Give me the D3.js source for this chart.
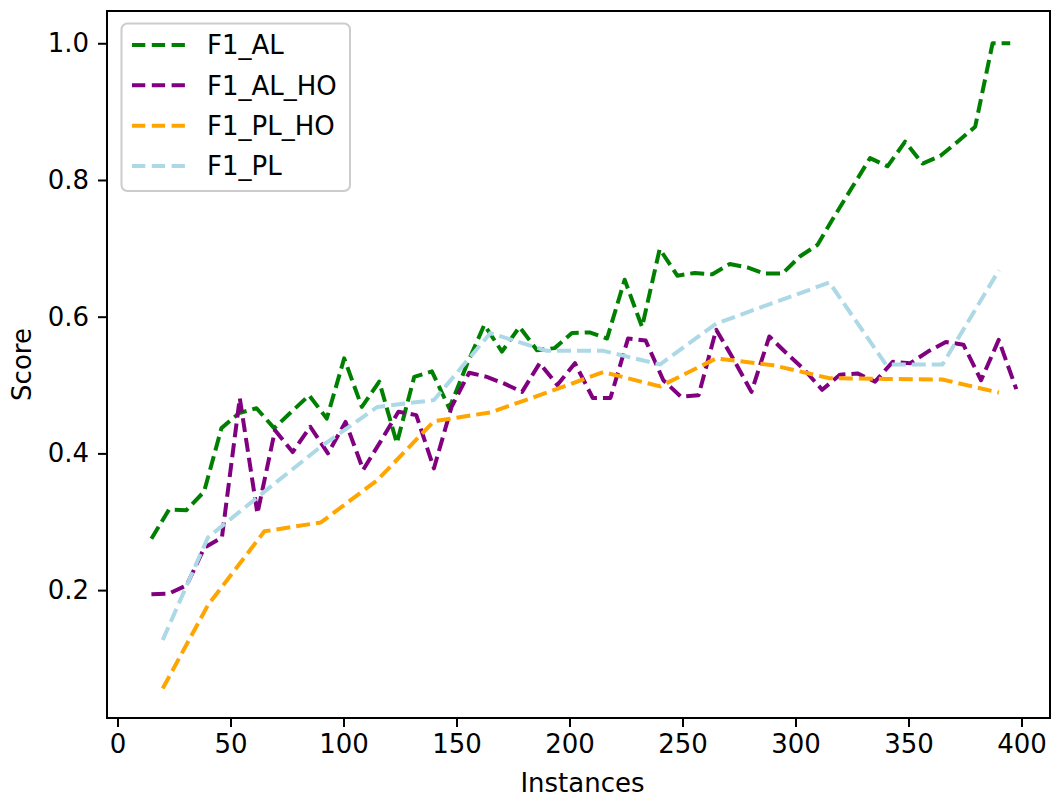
<!DOCTYPE html>
<html>
<head>
<meta charset="utf-8">
<script src="https://cdn.jsdelivr.net/npm/d3@7"></script>
<style>
  body { margin: 0; background: #fff; }
  svg { display: block; }
  text { font-family: "DejaVu Sans", sans-serif; fill: #000; }
</style>
</head>
<body>
<svg id="chart" width="1052" height="799"></svg>
<script>
// ---- data ----
const seriesNames = ["F1_AL", "F1_AL_HO", "F1_PL_HO", "F1_PL"];
const seriesColors = ["green", "purple", "orange", "lightblue"];

const xAL = [15.0, 22.8, 30.5, 38.3, 46.0, 53.8, 61.5, 69.3, 77.0, 84.8,
             92.6, 100.3, 108.1, 115.8, 123.6, 131.3, 139.1, 146.8, 154.6, 162.3,
             170.1, 177.9, 185.6, 193.4, 201.1, 208.9, 216.6, 224.4, 232.1, 239.9,
             247.7, 255.4, 263.2, 270.9, 278.7, 286.4, 294.2, 301.9, 309.7, 317.4,
             325.2, 333.0, 340.7, 348.5, 356.2, 364.0, 371.7, 379.5, 387.2, 395.0];
const yAL = [0.275, 0.318, 0.317, 0.344, 0.437, 0.459, 0.466, 0.437, 0.461, 0.485,
             0.451, 0.539, 0.468, 0.505, 0.415, 0.512, 0.520, 0.466, 0.530, 0.588,
             0.549, 0.585, 0.551, 0.554, 0.576, 0.577, 0.568, 0.654, 0.585, 0.699,
             0.660, 0.664, 0.662, 0.677, 0.672, 0.663, 0.663, 0.688, 0.705, 0.748,
             0.790, 0.832, 0.820, 0.856, 0.824, 0.835, 0.856, 0.878, 1.000, 1.000];

const xALHO = [15.0, 22.8, 30.6, 38.4, 46.2, 54.1, 61.9, 69.7, 77.5, 85.3,
               93.1, 100.9, 108.7, 116.5, 124.3, 132.2, 140.0, 147.8, 155.6, 163.4,
               171.2, 179.0, 186.8, 194.6, 202.4, 210.3, 218.1, 225.9, 233.7, 241.5,
               249.3, 257.1, 264.9, 272.7, 280.5, 288.4, 296.2, 304.0, 311.8, 319.6,
               327.4, 335.2, 343.0, 350.8, 358.6, 366.5, 374.3, 382.1, 389.9, 397.7];
const yALHO = [0.194, 0.195, 0.207, 0.262, 0.277, 0.481, 0.312, 0.434, 0.402, 0.439,
               0.400, 0.446, 0.376, 0.418, 0.461, 0.456, 0.378, 0.468, 0.518, 0.512,
               0.502, 0.490, 0.532, 0.500, 0.532, 0.481, 0.481, 0.568, 0.565, 0.507,
               0.483, 0.485, 0.581, 0.537, 0.490, 0.571, 0.546, 0.522, 0.493, 0.515,
               0.517, 0.505, 0.534, 0.532, 0.549, 0.563, 0.559, 0.507, 0.566, 0.494];

const xPL = [20, 40, 65, 90, 115, 140, 165, 190, 215, 240, 265, 290, 315, 340, 365, 390];
const yPLHO = [0.056, 0.178, 0.286, 0.299, 0.361, 0.447, 0.460, 0.489,
               0.519, 0.498, 0.539, 0.529, 0.510, 0.509, 0.508, 0.489];
const yPL = [0.127, 0.277, 0.344, 0.410, 0.468, 0.478, 0.576, 0.550,
             0.550, 0.530, 0.590, 0.620, 0.650, 0.530, 0.530, 0.668];

const xTicks = [0, 50, 100, 150, 200, 250, 300, 350, 400];
const yTicks = [0.2, 0.4, 0.6, 0.8, 1.0];
const xLimits = [-4.65, 412.6];
const yLimits = [0.0129, 1.0472];

// ---- layout ----
const plot = { left: 107, right: 1050, top: 11, bottom: 718 };
const svg = d3.select("#chart");

const x = d3.scaleLinear().domain(xLimits).range([plot.left, plot.right]);
const y = d3.scaleLinear().domain(yLimits).range([plot.bottom, plot.top]);

const series = [
  { name: seriesNames[0], color: seriesColors[0], xs: xAL,   ys: yAL },
  { name: seriesNames[1], color: seriesColors[1], xs: xALHO, ys: yALHO },
  { name: seriesNames[2], color: seriesColors[2], xs: xPL,   ys: yPLHO },
  { name: seriesNames[3], color: seriesColors[3], xs: xPL,   ys: yPL }
];

const lineWidth = 4;
const dash = "14,6";
const fontSize = 26;

// clip lines to the axes box
svg.append("defs").append("clipPath").attr("id", "plotClip")
  .append("rect")
  .attr("x", plot.left).attr("y", plot.top)
  .attr("width", plot.right - plot.left).attr("height", plot.bottom - plot.top);

const line = d3.line().x(d => x(d[0])).y(d => y(d[1]));

const lines = svg.append("g").attr("clip-path", "url(#plotClip)");
series.forEach(s => {
  lines.append("path")
    .datum(s.xs.map((v, i) => [v, s.ys[i]]))
    .attr("d", line)
    .attr("fill", "none")
    .attr("stroke", s.color)
    .attr("stroke-width", lineWidth)
    .attr("stroke-dasharray", dash)
    .attr("stroke-linejoin", "round")
    .attr("stroke-linecap", "butt");
});

// ---- axes ----
const xAxis = svg.append("g")
  .attr("transform", `translate(0,${plot.bottom})`)
  .call(d3.axisBottom(x).tickValues(xTicks).tickFormat(d3.format("d"))
        .tickSize(9).tickSizeOuter(0).tickPadding(8));
const yAxis = svg.append("g")
  .attr("transform", `translate(${plot.left},0)`)
  .call(d3.axisLeft(y).tickValues(yTicks).tickFormat(d3.format(".1f"))
        .tickSize(9).tickSizeOuter(0).tickPadding(9));

[xAxis, yAxis].forEach(g => {
  g.select(".domain").remove();
  g.selectAll(".tick line").attr("stroke", "#000").attr("stroke-width", 2);
  g.selectAll(".tick text")
    .attr("font-size", fontSize)
    .attr("font-family", "DejaVu Sans, sans-serif")
    .attr("fill", "#000");
});

// frame
svg.append("rect")
  .attr("x", plot.left).attr("y", plot.top)
  .attr("width", plot.right - plot.left).attr("height", plot.bottom - plot.top)
  .attr("fill", "none").attr("stroke", "#000").attr("stroke-width", 2);

// axis titles
svg.append("text")
  .attr("x", (plot.left + plot.right) / 2 + 4).attr("y", 792)
  .attr("text-anchor", "middle").attr("font-size", fontSize)
  .text("Instances");
svg.append("text")
  .attr("transform", `translate(31,${(plot.top + plot.bottom) / 2}) rotate(-90)`)
  .attr("text-anchor", "middle").attr("font-size", fontSize)
  .text("Score");

// ---- legend ----
const legend = svg.append("g");
legend.append("rect")
  .attr("x", 121.5).attr("y", 23.5).attr("width", 228.5).attr("height", 167.5)
  .attr("rx", 6).attr("ry", 6)
  .attr("fill", "#fff").attr("fill-opacity", 0.8)
  .attr("stroke", "#cccccc").attr("stroke-width", 2);
const rowY = d3.scaleLinear().domain([0, 3]).range([45, 166]);
series.forEach((s, i) => {
  const ry = rowY(i);
  legend.append("line")
    .attr("x1", 132).attr("x2", 185).attr("y1", ry).attr("y2", ry)
    .attr("stroke", s.color).attr("stroke-width", lineWidth)
    .attr("stroke-dasharray", "13.3,6.5");
  legend.append("text")
    .attr("x", 207).attr("y", ry).attr("dy", "0.36em")
    .attr("font-size", fontSize)
    .text(s.name);
});
</script>
</body>
</html>
